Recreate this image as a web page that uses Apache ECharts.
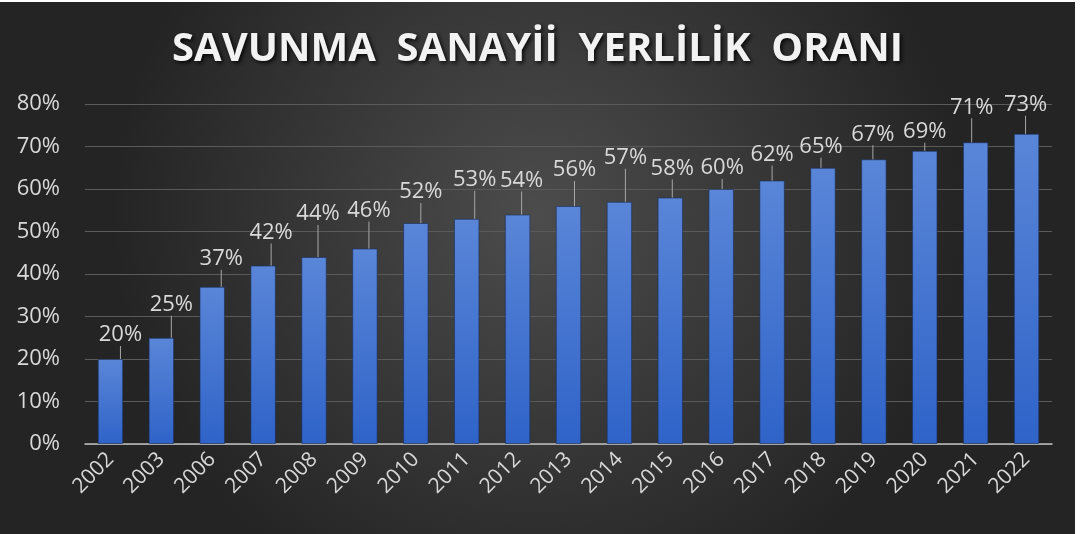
<!DOCTYPE html>
<html>
<head>
<meta charset="utf-8">
<title>Savunma Sanayii Yerlilik Oranı</title>
<script src="https://cdn.jsdelivr.net/npm/echarts@6/dist/echarts.min.js"></script>
<style>
  html, body { margin: 0; padding: 0; background: #fff; }
  #chart { position: absolute; left: 0; top: 2px; width: 1075px; height: 532px; }
</style>
</head>
<body>
<div id="chart"></div>
<script>
// yıllar ve oranlar (%)
const years = ['2002', '2003', '2006', '2007', '2008', '2009', '2010', '2011', '2012', '2013',
  '2014', '2015', '2016', '2017', '2018', '2019', '2020', '2021', '2022']
const ratios = [20, 25, 37, 42, 44, 46, 52, 53, 54, 56, 57, 58, 60, 62, 65, 67, 69, 71, 73]
const yTicks = { min: 0, max: 80, interval: 10 }

// etiketlerin çubuktan kaydırılması (Excel'deki elle taşınmış etiketler)
const labelShiftX = [10, 10, 9, 8, 4, 4, 5, 8, 4, 6, 6, 2, 1, 0, -2, -1, 0, -4, -1]
const labelShiftY = [-8, -17, -12, -17, -27, -22, -15, -23, -18, -20, -28, -13, -5, -10, -5, -9, -3, -19, -13]

const textColor = '#d9d9d9'
const font = '"Open Sans", "Noto Sans", sans-serif'

const chart = echarts.init(document.getElementById('chart'))

chart.setOption({
  backgroundColor: {
    type: 'radial',
    x: 0.5,
    y: 0.4,
    r: 0.8,
    colorStops: [
      { offset: 0, color: '#4c4c4c' },
      { offset: 1, color: '#242424' }
    ]
  },
  animation: false,
  title: {
    text: 'SAVUNMA  SANAYİİ  YERLİLİK  ORANI',
    left: 'center',
    top: 20,
    textStyle: {
      color: '#f2f2f2',
      fontFamily: font,
      fontSize: 40,
      fontWeight: 'bold',
      lineHeight: 46,
      textShadowColor: 'rgba(0,0,0,0.85)',
      textShadowBlur: 4,
      textShadowOffsetX: 2,
      textShadowOffsetY: 2
    }
  },
  grid: {
    left: 85,
    right: 23,
    top: 102,
    bottom: 90
  },
  xAxis: {
    type: 'category',
    data: years,
    axisTick: { show: false },
    axisLine: { lineStyle: { color: '#bfbfbf', width: 1.5 } },
    axisLabel: {
      rotate: 45,
      margin: 12,
      color: textColor,
      fontFamily: font,
      fontSize: 21
    }
  },
  yAxis: {
    type: 'value',
    min: yTicks.min,
    max: yTicks.max,
    interval: yTicks.interval,
    axisLine: { show: false },
    axisTick: { show: false },
    axisLabel: {
      margin: 25,
      formatter: '{value}%',
      color: textColor,
      fontFamily: font,
      fontSize: 22
    },
    splitLine: { lineStyle: { color: '#5a5a5a', width: 1 } }
  },
  series: [{
    type: 'bar',
    data: ratios,
    barWidth: '50%',
    itemStyle: {
      color: {
        type: 'linear',
        x: 0, y: 0, x2: 0, y2: 1,
        colorStops: [
          { offset: 0, color: '#5a86d8' },
          { offset: 1, color: '#2f63c8' }
        ]
      },
      borderColor: 'rgba(25,45,90,0.6)',
      borderWidth: 1
    },
    label: {
      show: true,
      position: 'top',
      distance: 5,
      formatter: '{c}%',
      color: textColor,
      fontFamily: font,
      fontSize: 22
    },
    labelLine: {
      show: true,
      lineStyle: { color: '#a6a6a6', width: 1 }
    },
    labelLayout: function (params) {
      return {
        dx: labelShiftX[params.dataIndex],
        dy: labelShiftY[params.dataIndex]
      }
    }
  }]
})
</script>
</body>
</html>
